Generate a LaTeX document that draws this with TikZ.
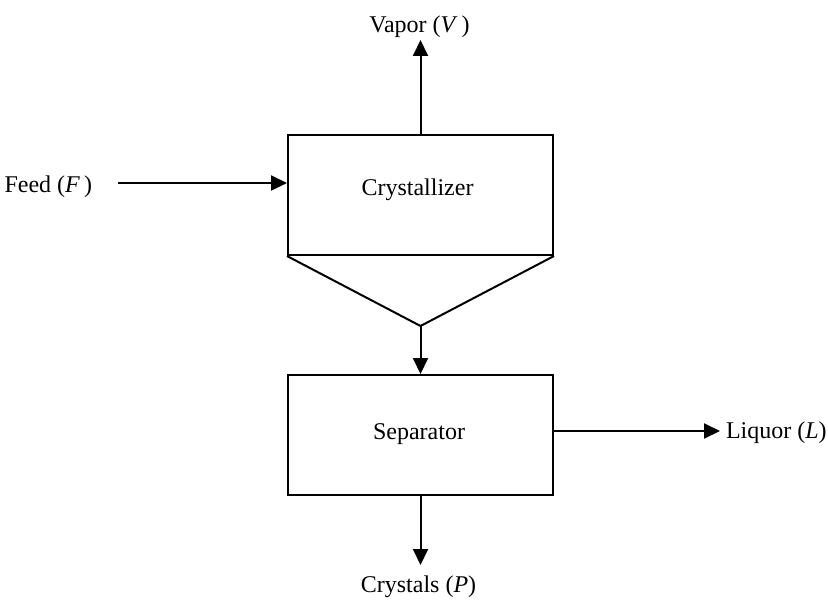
\documentclass[tikz,border=0pt]{standalone}
\usepackage{fontspec}
\setmainfont{Liberation Serif}
\usetikzlibrary{arrows.meta}
\begin{document}
\begin{tikzpicture}[x=1pt,y=-1pt,
  line width=2pt,
  unit/.style={draw,rectangle,minimum width=265pt,minimum height=120pt,inner sep=0pt,font=\fontsize{24}{28}\selectfont},
  lbl/.style={inner sep=0pt,font=\fontsize{24}{28}\selectfont},
  flow/.style={-{Triangle[length=16pt,width=15pt]},line cap=butt}]
\useasboundingbox (0,0) rectangle (828,602);
\node[unit] (crys) at (420.5,195) {};
\node[lbl] at (417.5,190) {Crystallizer};
\node[unit] (sep) at (420.5,435) {};
\node[lbl] at (419,434) {Separator};
\coordinate (apex) at (420.5,326);
\draw[line join=miter] (crys.south west) -- (apex) -- (crys.south east);
\draw[flow] (apex) -- (sep.north);
\node[lbl,anchor=base east] (feed) at (93,192) {Feed (\textit{F}\,)};
\coordinate (feedstart) at (118,183);
\coordinate (feedend) at (crys.west |- feedstart);
\draw[flow] (feedstart) -- (feedend);
\node[lbl,anchor=base] (vapor) at (419.5,33) {Vapor (\textit{V}\,)};
\coordinate (vapend) at (420.5,40);
\draw[flow] (crys.north) -- (vapend);
\node[lbl,anchor=base] (cryst) at (418.5,592) {Crystals (\textit{P})};
\coordinate (crysend) at (420.5,565);
\draw[flow] (sep.south) -- (crysend);
\node[lbl,anchor=base west] (liq) at (725,438) {Liquor (\textit{L})};
\coordinate (liqstart) at (sep.east |- 0,431);
\coordinate (liqend) at (720,431);
\draw[flow] (liqstart) -- (liqend);
\end{tikzpicture}
\end{document}
